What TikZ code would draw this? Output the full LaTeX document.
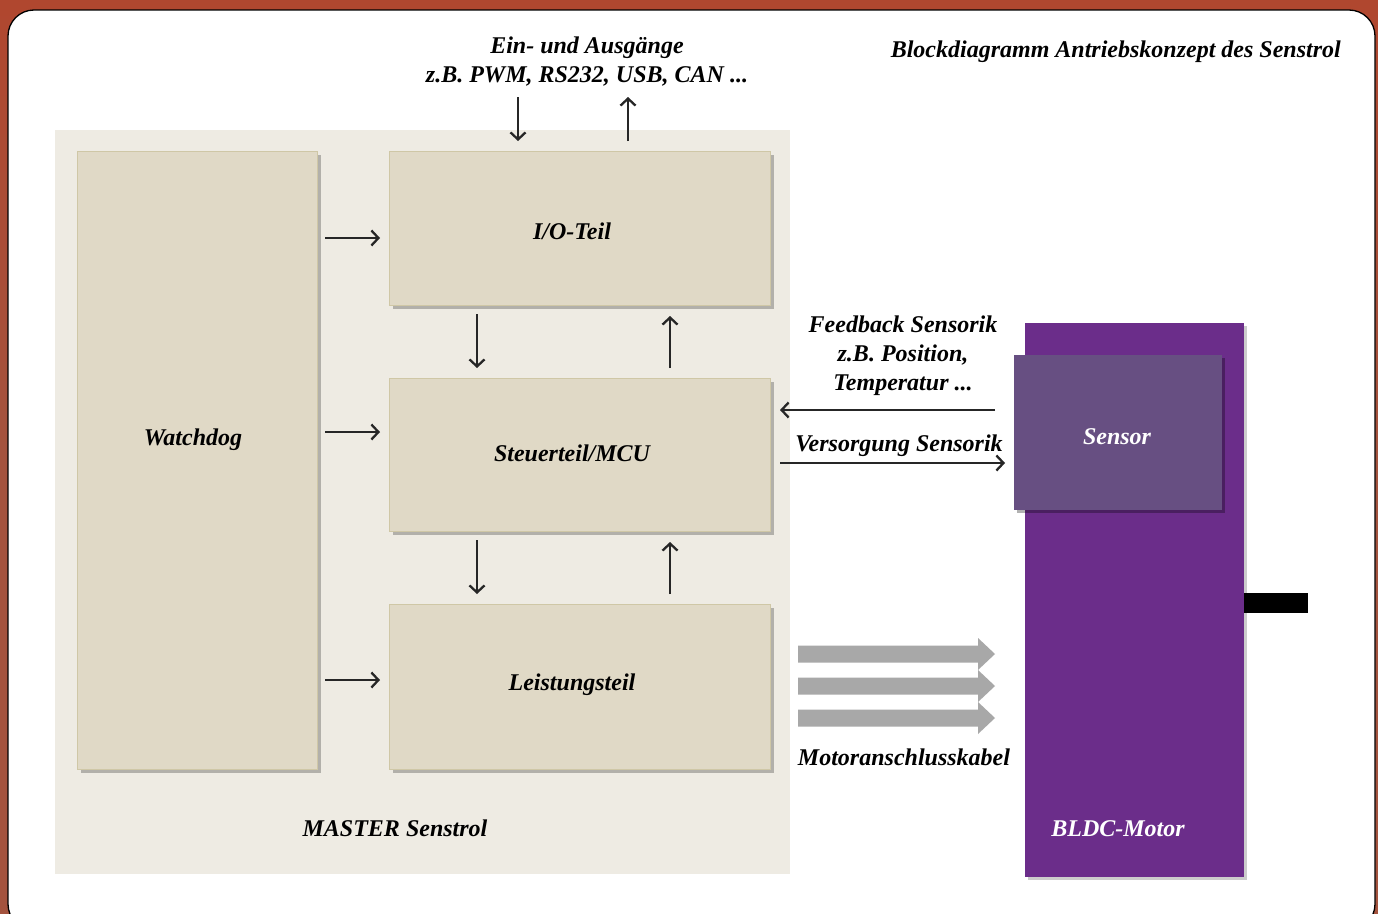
\documentclass[tikz,border=0pt]{standalone}
\usepackage{fontspec}
\setmainfont{Liberation Serif}
\usetikzlibrary{arrows.meta,shadows}
\definecolor{frame}{HTML}{A4533E}
\definecolor{frametop}{HTML}{B0472F}
\definecolor{panel}{HTML}{EEEBE3}
\definecolor{boxfill}{HTML}{E0D9C6}
\definecolor{boxedge}{HTML}{CFC7A6}
\definecolor{motor}{HTML}{6B2D8A}
\definecolor{sensorc}{HTML}{674F82}
\definecolor{fat}{HTML}{A8A8A8}
\definecolor{arr}{HTML}{262626}
\tikzset{
  lbl/.style={font=\bfseries\itshape\fontsize{24}{29}\selectfont, text=black, align=center, inner sep=0pt},
  wlbl/.style={lbl, text=white},
  block/.style={draw=boxedge, line width=1.2pt, fill=boxfill, anchor=north west, inner sep=0pt,
    drop shadow={shadow xshift=3pt, shadow yshift=-3pt, fill=black, opacity=0.25}},
  thinarrow/.style={draw=arr, line width=2.3pt, -{Straight Barb[length=7pt,width=15pt,line width=2.3pt]}},
  fatarrow/.style={fill=fat}
}
\begin{document}
\begin{tikzpicture}[x=1pt,y=-1pt]
\useasboundingbox (0,0) rectangle (1378,913);
% frame
\fill[top color=frametop, bottom color=frame, middle color=frame] (0,0) rectangle (1378,913);
\draw[fill=white, line width=1.3pt, rounded corners=26pt] (8,10) rectangle (1375,930);
% title
\node[lbl, anchor=east] (title) at (1341,52) {Blockdiagramm Antriebskonzept des Senstrol};
% master panel
\fill[panel] (55,130) rectangle (790,874);
\node[lbl] (master) at (395,828) {MASTER Senstrol};
% blocks
\node[block, minimum width=240pt, minimum height=618pt] (wd) at (77,151) {};
\node[lbl] at (193,440) {Watchdog};
\node[block, minimum width=381pt, minimum height=154pt] (io) at (389,151) {};
\node[lbl] at (572,231) {I/O-Teil};
\node[block, minimum width=381pt, minimum height=153pt] (mcu) at (389,378) {};
\node[lbl] at (572,453) {Steuerteil/MCU};
\node[block, minimum width=381pt, minimum height=165pt] (lt) at (389,604) {};
\node[lbl] at (572,685) {Leistungsteil};
% top io text
\node[lbl] (iotext) at (587,62) {Ein- und Ausgänge\\z.B. PWM, RS232, USB, CAN ...};
\coordinate (inA) at (518,97);
\coordinate (inB) at (518,141);
\coordinate (outA) at (628,97);
\coordinate (outB) at (628,141);
\draw[thinarrow] (inA) -- (inB);
\draw[thinarrow] (outB) -- (outA);
% watchdog arrows
\draw[thinarrow] (325,238) -- (380,238);
\draw[thinarrow] (325,432) -- (380,432);
\draw[thinarrow] (325,680) -- (380,680);
% vertical arrows
\draw[thinarrow] (477,314) -- (477,368);
\draw[thinarrow] (670,368) -- (670,316);
\draw[thinarrow] (477,540) -- (477,594);
\draw[thinarrow] (670,594) -- (670,542);
% motor
\fill[black] (1240,593) rectangle (1308,613);
\node[fill=motor, anchor=north west, minimum width=219pt, minimum height=554pt, inner sep=0pt,
  drop shadow={shadow xshift=3pt, shadow yshift=-3pt, fill=black, opacity=0.2}] (motor) at (1025,323) {};
\node[fill=sensorc, anchor=north west, minimum width=208pt, minimum height=155pt, inner sep=0pt,
  drop shadow={shadow xshift=3pt, shadow yshift=-3pt, fill=black, opacity=0.3}] (sensor) at (1014,355) {};
\node[wlbl] at (1117,437) {Sensor};
\node[wlbl] at (1118,829) {BLDC-Motor};
% feedback
\node[lbl] (fb) at (903,356) {Feedback Sensorik\\z.B. Position,\\Temperatur ...};
\draw[thinarrow] (995,410) -- (780,410);
\node[lbl] (vs) at (899,446) {Versorgung Sensorik};
\draw[thinarrow] (780,463) -- (1005,463);
% fat arrows
\foreach \y in {654,686,718}{
  \fill[fatarrow] (798,\y-8.5) -- (978,\y-8.5) -- (978,\y-16) -- (995,\y) -- (978,\y+16) -- (978,\y+8.5) -- (798,\y+8.5) -- cycle;
}
\node[lbl] (kabel) at (904,757) {Motoranschlusskabel};
\end{tikzpicture}
\end{document}
